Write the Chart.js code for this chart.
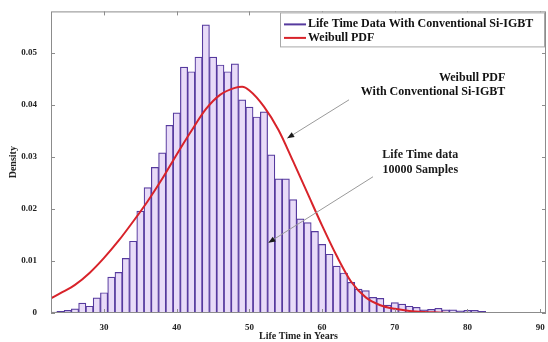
<!DOCTYPE html>
<html>
<head>
<meta charset="utf-8">
<script src="https://cdn.jsdelivr.net/npm/chart.js@4.4.0/dist/chart.umd.min.js"></script>
<style>
html, body { margin: 0; padding: 0; background: #fff; }
#wrap { width: 548px; height: 342px; }
</style>
</head>
<body>
<div id="wrap"><canvas id="chart"></canvas></div>
<script>
// histogram bins (1 year wide)
const binCenters = [23, 24, 25, 26, 27, 28, 29, 30, 31, 32, 33, 34, 35, 36, 37, 38, 39, 40,
	41, 42, 43, 44, 45, 46, 47, 48, 49, 50, 51, 52, 53, 54, 55, 56, 57, 58, 59, 60,
	61, 62, 63, 64, 65, 66, 67, 68, 69, 70, 71, 72, 73, 74, 75, 76, 77, 78, 79, 80,
	81, 82, 83];
const densities = [0.0002, 0.0003, 0.0005, 0.0008, 0.0019, 0.0013, 0.0029, 0.0039, 0.0069, 0.0078,
	0.0105, 0.0138, 0.0196, 0.0241, 0.0280, 0.0308, 0.0361, 0.0385, 0.0473, 0.0464,
	0.0492, 0.0554, 0.0492, 0.0477, 0.0464, 0.0479, 0.0410, 0.0396, 0.0377, 0.0387,
	0.0304, 0.0258, 0.0258, 0.0218, 0.0181, 0.0174, 0.0157, 0.0132, 0.0113, 0.0090,
	0.0077, 0.0059, 0.0046, 0.0043, 0.0030, 0.0028, 0.0015, 0.0020, 0.0017, 0.0013,
	0.0011, 0.0006, 0.0007, 0.0009, 0.0006, 0.0006, 0.0004, 0.0005, 0.0005, 0.0003,
	0.0001];

// weibull pdf curve
const pdfX = [22.7, 24, 26, 28, 30, 32, 34, 36, 38, 40, 42, 44, 46, 48, 49, 50, 52, 54,
	56, 58, 60, 62, 64, 66, 68, 70, 72, 74, 76, 78, 84, 91];
const pdfY = [0.0028, 0.0038, 0.0054, 0.0077, 0.0106, 0.0139, 0.0176, 0.0215, 0.0258, 0.0305,
	0.0350, 0.0392, 0.0420, 0.0433, 0.0435, 0.0428, 0.0397, 0.0352, 0.0292, 0.0230,
	0.0168, 0.0110, 0.0060, 0.0030, 0.0015, 0.0008, 0.0004, 0.0002, 0.0001, 0, 0, 0];

const xTicks = [30, 40, 50, 60, 70, 80, 90];
const yTicks = [0, 0.01, 0.02, 0.03, 0.04, 0.05];

const serif = '"Liberation Serif", "Times New Roman", serif';
const barEdge = "#563a9e";
const pdfColor = "#d8232a";

function arrow(ctx, x0, y0, x1, y1) {
	ctx.strokeStyle = "#9a9a9a";
	ctx.lineWidth = 1;
	ctx.beginPath();
	ctx.moveTo(x0, y0);
	ctx.lineTo(x1, y1);
	ctx.stroke();
	const ang = Math.atan2(y1 - y0, x1 - x0), L = 7, W = 2.8;
	ctx.fillStyle = "#1a1a1a";
	ctx.beginPath();
	ctx.moveTo(x1, y1);
	ctx.lineTo(x1 - L * Math.cos(ang) + W * Math.sin(ang), y1 - L * Math.sin(ang) - W * Math.cos(ang));
	ctx.lineTo(x1 - L * Math.cos(ang) - W * Math.sin(ang), y1 - L * Math.sin(ang) + W * Math.cos(ang));
	ctx.closePath();
	ctx.fill();
}

const notes = [
	{ lines: ["Weibull PDF", "With Conventional Si-IGBT"], x: 85.2, y: [0.0452, 0.0425], align: "right",
		from: [63.7, 0.041], to: [55.2, 0.0336] },
	{ lines: ["Life Time data", "10000 Samples"], x: 73.5, y: [0.0304, 0.0275], align: "center",
		from: [67.0, 0.0262], to: [52.6, 0.0135] }
];

const decor = {
	id: "decor",
	afterDatasetsDraw(chart) {
		const { ctx, chartArea: a, scales: { x, y } } = chart;
		ctx.save();
		// box + inward ticks
		ctx.strokeStyle = "#8c8c8c";
		ctx.lineWidth = 1;
		ctx.strokeRect(a.left + 0.5, a.top + 0.5, a.right - a.left - 1, a.bottom - a.top - 1);
		ctx.beginPath();
		xTicks.forEach(v => {
			const px = Math.round(x.getPixelForValue(v)) + 0.5;
			ctx.moveTo(px, a.bottom); ctx.lineTo(px, a.bottom - 4);
			ctx.moveTo(px, a.top); ctx.lineTo(px, a.top + 4);
		});
		yTicks.forEach(v => {
			const py = Math.round(y.getPixelForValue(v)) + 0.5;
			ctx.moveTo(a.left, py); ctx.lineTo(a.left + 4, py);
			ctx.moveTo(a.right, py); ctx.lineTo(a.right - 4, py);
		});
		ctx.stroke();

		// annotations
		ctx.font = "bold 12px " + serif;
		ctx.fillStyle = "#111";
		ctx.textBaseline = "middle";
		notes.forEach(n => {
			ctx.textAlign = n.align;
			n.lines.forEach((t, i) => ctx.fillText(t, x.getPixelForValue(n.x), y.getPixelForValue(n.y[i])));
			arrow(ctx, x.getPixelForValue(n.from[0]), y.getPixelForValue(n.from[1]),
				x.getPixelForValue(n.to[0]), y.getPixelForValue(n.to[1]));
		});

		// legend
		const lw = 264, lh = 34, lx = a.right - lw - 2, ly = a.top + 1;
		ctx.fillStyle = "#fff";
		ctx.fillRect(lx, ly, lw, lh);
		ctx.strokeStyle = "#a8a8a8";
		ctx.strokeRect(lx + 0.5, ly + 0.5, lw, lh);
		ctx.font = "bold 12px " + serif;
		ctx.textAlign = "left";
		chart.data.datasets.forEach((ds, i) => {
			const ry = ly + 12 + i * 13.5;
			ctx.strokeStyle = i === 0 ? barEdge : pdfColor;
			ctx.lineWidth = 2;
			ctx.beginPath();
			ctx.moveTo(lx + 4, ry); ctx.lineTo(lx + 26, ry);
			ctx.stroke();
			ctx.fillStyle = "#111";
			ctx.fillText(ds.label, lx + 28, ry);
		});
		ctx.restore();
	}
};

const ctx = document.getElementById("chart");
const config = {
	type: "bar",
	data: {
		datasets: [{
			label: "Life Time Data With Conventional Si-IGBT",
			data: binCenters.map((c, i) => ({ x: c, y: densities[i] })),
			backgroundColor: "#e8dbf8",
			borderColor: barEdge,
			borderWidth: 1.2,
			barPercentage: 1,
			categoryPercentage: 1,
			order: 2
		}, {
			type: "line",
			label: "Weibull PDF",
			data: pdfX.map((v, i) => ({ x: v, y: pdfY[i] })),
			borderColor: pdfColor,
			borderWidth: 2,
			pointRadius: 0,
			tension: 0.4,
			cubicInterpolationMode: "monotone",
			order: 1
		}]
	},
	options: {
		responsive: true,
		maintainAspectRatio: false,
		animation: false,
		layout: { padding: { left: 7, right: 2, top: 10, bottom: 0 } },
		plugins: { legend: { display: false }, tooltip: { enabled: false } },
		scales: {
			x: {
				type: "linear",
				min: 22.7,
				max: 90.8,
				offset: false,
				grid: { display: false, offset: false },
				border: { display: false },
				afterBuildTicks: s => { s.ticks = xTicks.map(v => ({ value: v })); },
				afterFit: s => { s.height = 29; },
				ticks: { padding: 1, color: "#222", font: { family: serif, size: 9, weight: "bold" } },
				title: {
					display: true,
					text: "Life Time in Years",
					color: "#222",
					padding: 0,
					font: { family: serif, size: 10, weight: "bold" }
				}
			},
			y: {
				min: 0,
				max: 0.058,
				grid: { display: false },
				border: { display: false },
				afterBuildTicks: s => { s.ticks = yTicks.map(v => ({ value: v })); },
				afterFit: s => { s.width = 44; },
				ticks: {
					padding: 6,
					color: "#222",
					font: { family: serif, size: 9, weight: "bold" },
					callback: v => v === 0 ? "0" : v.toFixed(2)
				},
				title: {
					display: true,
					text: "Density",
					color: "#222",
					padding: 0,
					font: { family: serif, size: 10, weight: "bold" }
				}
			}
		}
	},
	plugins: [decor]
};
let chart = new Chart(ctx, config);
</script>
</body>
</html>
